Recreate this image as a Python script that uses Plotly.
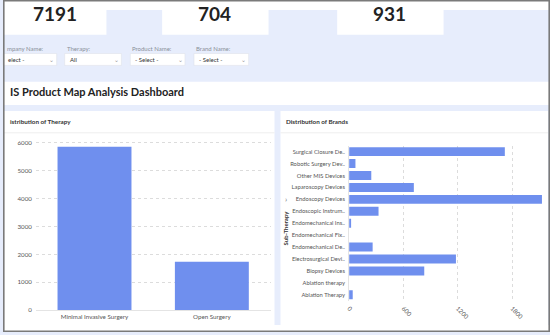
import plotly.graph_objects as go

# ---- data ----
kpi_values = ["7191", "704", "931"]
filter_labels = ["mpany Name:", "Therapy:", "Product Name:", "Brand Name:"]
filter_values = ["elect -", "All", "- Select -", "- Select -"]

therapy = ["Minimal Invasive Surgery", "Open Surgery"]
therapy_counts = [5860, 1740]

sub_therapy = [
    "Surgical Closure De..", "Robotic Surgery Dev..", "Other MIS Devices",
    "Laparoscopy Devices", "Endoscopy Devices", "Endoscopic Instrum..",
    "Endomechanical Ins..", "Endomechanical Fix..", "Endomechanical De..",
    "Electrosurgical Devi..", "Biopsy Devices", "Ablation therapy",
    "Ablation Therapy",
]
brand_counts = [1720, 70, 245, 715, 2130, 325, 12, 0, 260, 1180, 830, 0, 40]

W, H = 550, 335
def px(x):
    return x / W
def py(y):
    return 1 - y / H

LAV = "#e7edfc"
BAR = "#6f8fee"
FONT = "Lato"

fig = go.Figure()
fig.add_trace(go.Bar(x=therapy, y=therapy_counts, marker=dict(color=BAR, line=dict(width=0)),
                     xaxis="x", yaxis="y", showlegend=False))
fig.add_trace(go.Bar(x=brand_counts, y=sub_therapy, orientation="h",
                     marker=dict(color=BAR, line=dict(width=0)),
                     xaxis="x2", yaxis="y2", showlegend=False))

shapes = []
def rect(x0, y0, x1, y1, color="white", line=None, layer="below"):
    d = dict(type="rect", xref="paper", yref="paper", x0=px(x0), x1=px(x1),
             y0=py(y1), y1=py(y0), fillcolor=color, layer=layer,
             line=dict(width=0) if line is None else line)
    shapes.append(d)

rect(0, 0, 550, 10)
for x0, x1 in [(0, 104), (160, 267), (336, 443)]:
    rect(x0, 0, x1, 35)
for x0, x1 in [(0, 54), (62, 119), (128, 183), (192, 247)]:
    rect(x0, 54, x1, 66, line=dict(width=0.6, color="#dfe3ea"))
rect(0, 82.5, 550, 106)
rect(0, 112, 273, 328)
rect(279, 112, 548, 328)
rect(0, 328, 550, 335)
for x0, x1 in [(0, 273), (279, 548)]:
    shapes.append(dict(type="line", xref="paper", yref="paper", x0=px(x0), x1=px(x1),
                       y0=py(134), y1=py(134), line=dict(color="#eeeeee", width=1), layer="below"))
shapes.append(dict(type="rect", xref="paper", yref="paper", x0=px(0.8), x1=px(549.2),
                   y0=py(334.2), y1=py(0.8), line=dict(color="#7a7a7a", width=1.6),
                   fillcolor="rgba(0,0,0,0)", layer="above"))

ann = []
def text(x, y, s, size=7, color="#333", anchor="left", bold=False, angle=0, family=FONT):
    ann.append(dict(x=px(x), y=py(y), xref="paper", yref="paper", text=("<b>%s</b>" % s) if bold else s,
                    showarrow=False, xanchor=anchor, yanchor="middle", textangle=angle,
                    font=dict(size=size, color=color, family=family)))

for cx, v in zip([52, 213, 389], kpi_values):
    text(cx, 14, v, size=19, color="#222", anchor="center", family="Lato", bold=True)
for x, s in zip([2, 62.5, 128, 192], filter_labels):
    text(x, 49, s, size=6, color="#8a8f99")
for (x0, x1), s in zip([(0, 54), (62, 119), (128, 183), (192, 247)], filter_values):
    text(x0 + 3, 60, s, size=6, color="#333")
    text(x1 - 5, 60, "⌄", size=6, color="#999", anchor="center")
text(5, 92, "IS Product Map Analysis Dashboard", size=11, color="#222", bold=True)
text(5, 123, "istribution of Therapy", size=6.3, color="#333", bold=True)
text(283, 123, "Distribution of Brands", size=6.3, color="#333", bold=True)
text(284, 230, "Sub-Therapy", size=6, color="#333", bold=True, anchor="center", angle=-90)
text(284.5, 201, "›", size=8, color="#777", anchor="center")

tickfont = dict(size=6.2, color="#555", family=FONT)
tickfont2 = dict(size=5.8, color="#555", family=FONT)

fig.update_layout(
    width=W, height=H, autosize=False,
    margin=dict(l=0, r=0, t=0, b=0),
    paper_bgcolor=LAV, plot_bgcolor="rgba(0,0,0,0)",
    font=dict(family=FONT),
    shapes=shapes, annotations=ann,
    bargap=0.37,
    xaxis=dict(domain=[px(33), px(269)], anchor="y", showgrid=False, tickfont=tickfont,
               showline=True, linecolor="#e4e4e4", linewidth=1, ticks="", fixedrange=True),
    yaxis=dict(domain=[py(313), py(140)], anchor="x", range=[0, 6150], tickvals=[0, 1000, 2000, 3000, 4000, 5000, 6000],
               showgrid=True, gridcolor="#dcdcdc", griddash="dot", gridwidth=1, zeroline=False,
               tickfont=tickfont, ticklabelstandoff=3),
    xaxis2=dict(domain=[px(348), px(542)], anchor="y2", range=[0, 2131], tickvals=[0, 600, 1200, 1800],
                tickangle=45, showgrid=True, gridcolor="#dcdcdc", griddash="dot", zeroline=False,
                tickfont=tickfont, ticklabelstandoff=2),
    yaxis2=dict(domain=[py(303.5), py(147)], anchor="x2", autorange="reversed", tickfont=tickfont2,
                showgrid=False, showline=True, linecolor="#e4e4e4", ticklabelstandoff=2),
)
fig.update_traces(selector=dict(orientation="h"), width=0.75)

fig.write_html("out.html")
